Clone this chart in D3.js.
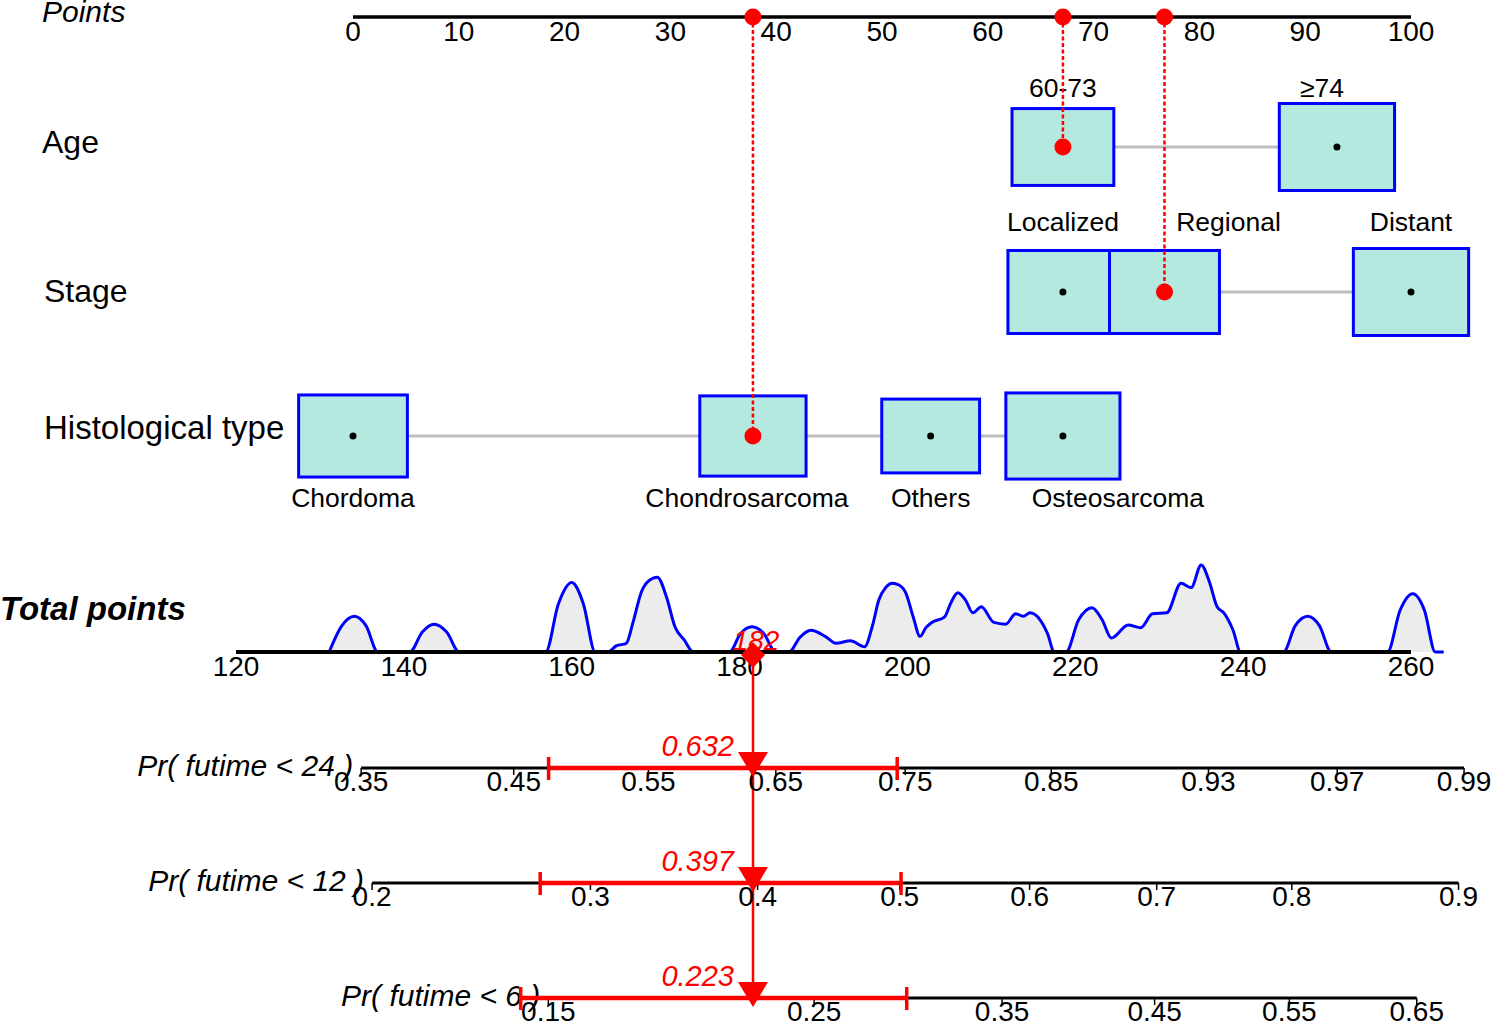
<!DOCTYPE html>
<html>
<head>
<meta charset="utf-8">
<script src="https://cdn.jsdelivr.net/npm/d3@7"></script>
<style>
  body { margin: 0; background: #fff; }
  svg { font-family: "Liberation Sans", Arial, sans-serif; }
</style>
</head>
<body>
<div id="chart"></div>
<script>
// ---- data ----
const pointTicks = [0, 10, 20, 30, 40, 50, 60, 70, 80, 90, 100];

const ageLevels = ['60-73', '≥74'];
const agePoints = [67.1, 93.0];
const ageFreq = [0.78, 1.0];

const stageLevels = ['Localized', 'Regional', 'Distant'];
const stagePoints = [67.1, 76.7, 100];
const stageFreq = [0.91, 0.91, 1.0];

const histLevels = ['Chordoma', 'Chondrosarcoma', 'Others', 'Osteosarcoma'];
const histPoints = [0, 37.8, 54.6, 67.1];
const histFreq = [0.89, 0.85, 0.72, 0.98];

// the patient that is marked in red
const patientLevels = ['60-73', 'Regional', 'Chondrosarcoma'];

const totalTicks = [120, 140, 160, 180, 200, 220, 240, 260];

// density of total points in the sample (relative)
const densityPts = [
  131.1, 132.6, 134.1, 135.5, 136.9,
  140.7, 142.2, 143.6, 145.1, 146.6,
  156.9, 158.4, 160.0, 161.4, 162.8,
  164.3, 165.3, 166.5, 167.3, 168.3, 169.2, 170.2, 171.3, 172.3, 173.4, 174.5,
  178.8, 180.1, 181.5, 182.9, 184.3,
  185.9, 187.2, 188.5, 190.2, 191.5, 193.2, 194.9, 195.8, 196.6, 197.4, 198.2, 199.0, 199.8,
  200.7, 201.5, 202.2, 202.9, 204.4, 205.2, 206.0, 206.9, 207.8, 208.8, 210.3, 211.7, 212.9,
  213.8, 214.6, 215.8, 216.7, 217.5,
  218.9, 220.4, 222.0, 223.2, 224.3, 226.3, 227.8, 229.2, 230.9, 232.6, 233.8, 235.0, 236.0,
  236.9, 237.7, 238.8, 239.7,
  244.8, 246.2, 247.7, 249.1, 250.5,
  257.2, 258.7, 260.2, 261.6, 262.9, 263.9
];
const densityVal = [
  0, 0.30, 0.41, 0.30, 0,
  0, 0.23, 0.32, 0.23, 0,
  0, 0.55, 0.80, 0.55, 0,
  0, 0.07, 0.10, 0.34, 0.69, 0.82, 0.86, 0.63, 0.29, 0.14, 0,
  0, 0.21, 0.29, 0.21, 0,
  0, 0.17, 0.25, 0.18, 0.10, 0.13, 0.06, 0.29, 0.60, 0.74, 0.79, 0.77, 0.68,
  0.40, 0.18, 0.28, 0.34, 0.40, 0.57, 0.68, 0.60, 0.45, 0.52, 0.34, 0.32, 0.44,
  0.41, 0.45, 0.37, 0.21, 0,
  0, 0.37, 0.51, 0.37, 0.16, 0.31, 0.28, 0.44, 0.45, 0.79, 0.74, 1.00, 0.80,
  0.52, 0.45, 0.25, 0,
  0, 0.30, 0.41, 0.30, 0,
  0, 0.48, 0.67, 0.48, 0, 0
];

// cox model: P(T < t) = 1 - exp(-H0(t) * exp(beta * (points - 180)))
const horizons = [24, 12, 6];
const cumHazardAt180 = [0.9712, 0.4914, 0.2451];
const lpPerPoint = 0.01803;
const probTicks24 = [0.35, 0.45, 0.55, 0.65, 0.75, 0.85, 0.93, 0.97, 0.99];
const probTicks12 = [0.2, 0.3, 0.4, 0.5, 0.6, 0.7, 0.8, 0.9];
const probTicks6 = [0.15, 0.25, 0.35, 0.45, 0.55, 0.65];
const ci24 = [0.475, 0.744];
const ci12 = [0.274, 0.501];
const ci6 = [0.142, 0.296];

// ---- layout ----
const width = 1492, height = 1024;
const rowY = { points: 17, age: 147, stage: 292, hist: 436, total: 652 };
const probY = [768, 883, 998];
const labelShift = { 'Regional': 64, 'Osteosarcoma': 55, '≥74': -15, 'Chondrosarcoma': -6 };

const svg = d3.select('#chart').append('svg')
  .attr('width', width)
  .attr('height', height);

const x = d3.scaleLinear([0, 100], [353, 1411]);
const xt = d3.scaleLinear([120, 260], [236, 1411]);
const boxH = d3.scaleSqrt([0, 1], [0, 87]);
const dens = d3.scaleLinear([0, 1], [0, 87]);

const red = '#ff0000';

// left titles
const title = (txt, y, opts = {}) => svg.append('text')
  .attr('x', opts.x ?? 42).attr('y', y)
  .style('font-size', (opts.size || 30) + 'px')
  .style('font-style', opts.italic ? 'italic' : null)
  .style('font-weight', opts.bold ? 'bold' : null)
  .text(txt);

title('Points', 22, { italic: true });
title('Age', rowY.age + 6, { size: 32 });
title('Stage', rowY.stage + 10, { x: 44, size: 32 });
title('Histological type', rowY.hist + 3, { x: 44, size: 33 });
title('Total points', rowY.total - 32, { x: 0, italic: true, bold: true, size: 33 });

// points axis
svg.append('line')
  .attr('x1', x(0)).attr('x2', x(100))
  .attr('y1', rowY.points).attr('y2', rowY.points)
  .attr('stroke', '#000').attr('stroke-width', 3.5);
svg.append('g').selectAll('text')
  .data(pointTicks)
  .join('text')
    .attr('x', d => x(d)).attr('y', rowY.points + 24)
    .attr('text-anchor', 'middle')
    .style('font-size', '28px')
    .text(d => d);

// categorical rows
const rows = [
  { key: 'age', levels: ageLevels, pts: agePoints, freq: ageFreq, labY: rowY.age - 50 },
  { key: 'stage', levels: stageLevels, pts: stagePoints, freq: stageFreq, labY: rowY.stage - 61 },
  { key: 'hist', levels: histLevels, pts: histPoints, freq: histFreq, labY: rowY.hist + 71 }
];

rows.forEach(r => {
  const y = rowY[r.key];
  const g = svg.append('g');
  const items = r.levels.map((l, i) => ({ level: l, pts: r.pts[i], freq: r.freq[i] }));

  g.append('line')
    .attr('x1', x(d3.min(r.pts))).attr('x2', x(d3.max(r.pts)))
    .attr('y1', y).attr('y2', y)
    .attr('stroke', '#bebebe').attr('stroke-width', 3);

  g.selectAll('rect')
    .data(items)
    .join('rect')
      .attr('x', d => x(d.pts) - boxH(d.freq) * 1.325 / 2)
      .attr('y', d => y - boxH(d.freq) / 2)
      .attr('width', d => boxH(d.freq) * 1.325)
      .attr('height', d => boxH(d.freq))
      .attr('fill', '#b3e9df')
      .attr('stroke', '#0000ff')
      .attr('stroke-width', 3);

  g.selectAll('circle.blk')
    .data(items.filter(d => !patientLevels.includes(d.level)))
    .join('circle')
      .attr('class', 'blk')
      .attr('cx', d => x(d.pts)).attr('cy', y)
      .attr('r', 3.5).attr('fill', '#000');

  g.selectAll('text')
    .data(items)
    .join('text')
      .attr('x', d => x(d.pts) + (labelShift[d.level] || 0))
      .attr('y', r.labY)
      .attr('text-anchor', 'middle')
      .style('font-size', '26.5px')
      .text(d => d.level);
});

// patient's points: dotted lines from the points axis
let totalScore = 0;
rows.forEach(r => {
  const i = r.levels.findIndex(l => patientLevels.includes(l));
  const p = r.pts[i];
  totalScore += p;
  const y = rowY[r.key];
  svg.append('line')
    .attr('x1', x(p)).attr('x2', x(p))
    .attr('y1', rowY.points).attr('y2', y)
    .attr('stroke', red).attr('stroke-width', 2.5)
    .attr('stroke-dasharray', '4,2.5');
  svg.append('circle').attr('cx', x(p)).attr('cy', y).attr('r', 8.5).attr('fill', red);
  svg.append('circle').attr('cx', x(p)).attr('cy', rowY.points).attr('r', 8.5).attr('fill', red);
});

// density of total points
const area = d3.area()
  .x((d, i) => xt(densityPts[i]))
  .y0(rowY.total)
  .y1(d => rowY.total - dens(d))
  .curve(d3.curveMonotoneX);
const line = d3.line()
  .x((d, i) => xt(densityPts[i]))
  .y(d => rowY.total - dens(d))
  .curve(d3.curveMonotoneX);
svg.append('path').datum(densityVal).attr('d', area).attr('fill', '#ececec');
svg.append('path').datum(densityVal).attr('d', line)
  .attr('fill', 'none').attr('stroke', '#0000ff').attr('stroke-width', 3);

svg.append('line')
  .attr('x1', xt(120)).attr('x2', xt(260))
  .attr('y1', rowY.total).attr('y2', rowY.total)
  .attr('stroke', '#000').attr('stroke-width', 4);
svg.append('g').selectAll('text')
  .data(totalTicks)
  .join('text')
    .attr('x', d => xt(d)).attr('y', rowY.total + 24)
    .attr('text-anchor', 'middle')
    .style('font-size', '28px')
    .text(d => d);

// probability axes
const cloglog = p => Math.log(-Math.log(1 - p));
const pointsFor = (p, k) => 180 + (cloglog(p) - Math.log(cumHazardAt180[k])) / lpPerPoint;
const probFor = (tp, k) => 1 - Math.exp(-cumHazardAt180[k] * Math.exp(lpPerPoint * (tp - 180)));

const probTicks = [probTicks24, probTicks12, probTicks6];
const cis = [ci24, ci12, ci6];
const px = xt(totalScore);

// red line from total points down
svg.append('line')
  .attr('x1', px).attr('x2', px)
  .attr('y1', rowY.total).attr('y2', probY[2] + 2)
  .attr('stroke', red).attr('stroke-width', 2.5);

horizons.forEach((t, k) => {
  const y = probY[k];
  const ticks = probTicks[k];
  const g = svg.append('g');
  const x0 = xt(pointsFor(ticks[0], k));

  g.append('line')
    .attr('x1', x0).attr('x2', xt(pointsFor(ticks[ticks.length - 1], k)))
    .attr('y1', y).attr('y2', y)
    .attr('stroke', '#000').attr('stroke-width', 3);

  g.selectAll('line.tk')
    .data(ticks)
    .join('line')
      .attr('class', 'tk')
      .attr('x1', d => xt(pointsFor(d, k))).attr('x2', d => xt(pointsFor(d, k)))
      .attr('y1', y).attr('y2', y + 7)
      .attr('stroke', '#000').attr('stroke-width', 1.5);

  g.selectAll('text.tl')
    .data(ticks)
    .join('text')
      .attr('class', 'tl')
      .attr('x', d => xt(pointsFor(d, k))).attr('y', y + 23)
      .attr('text-anchor', 'middle')
      .style('font-size', '28px')
      .text(d => d);

  g.append('text')
    .attr('x', x0 - 8).attr('y', y + 8)
    .attr('text-anchor', 'end')
    .style('font-size', '30px')
    .style('font-style', 'italic')
    .text(`Pr( futime < ${t} )`);

  // confidence interval
  const c1 = xt(pointsFor(cis[k][0], k)), c2 = xt(pointsFor(cis[k][1], k));
  g.append('line')
    .attr('x1', c1).attr('x2', c2).attr('y1', y).attr('y2', y)
    .attr('stroke', red).attr('stroke-width', 4.5);
  g.selectAll('line.cap')
    .data([c1, c2])
    .join('line')
      .attr('class', 'cap')
      .attr('x1', d => d).attr('x2', d => d)
      .attr('y1', y - 11).attr('y2', y + 12)
      .attr('stroke', red).attr('stroke-width', 3.5);

  g.append('path')
    .attr('d', `M${px - 15},${y - 16}L${px + 15},${y - 16}L${px},${y + 9}Z`)
    .attr('fill', red);

  g.append('text')
    .attr('x', px - 19).attr('y', y - 12)
    .attr('text-anchor', 'end')
    .attr('fill', red)
    .style('font-size', '29px')
    .style('font-style', 'italic')
    .text(probFor(totalScore, k).toFixed(3));
});

// total points marker
svg.append('text')
  .attr('x', px + 3).attr('y', rowY.total - 2)
  .attr('text-anchor', 'middle')
  .attr('fill', red)
  .style('font-size', '28px')
  .style('font-style', 'italic')
  .text(Math.round(totalScore));
svg.append('path')
  .attr('d', `M${px},${rowY.total - 10}L${px + 12},${rowY.total + 3}L${px},${rowY.total + 16}L${px - 12},${rowY.total + 3}Z`)
  .attr('fill', red);
</script>
</body>
</html>
